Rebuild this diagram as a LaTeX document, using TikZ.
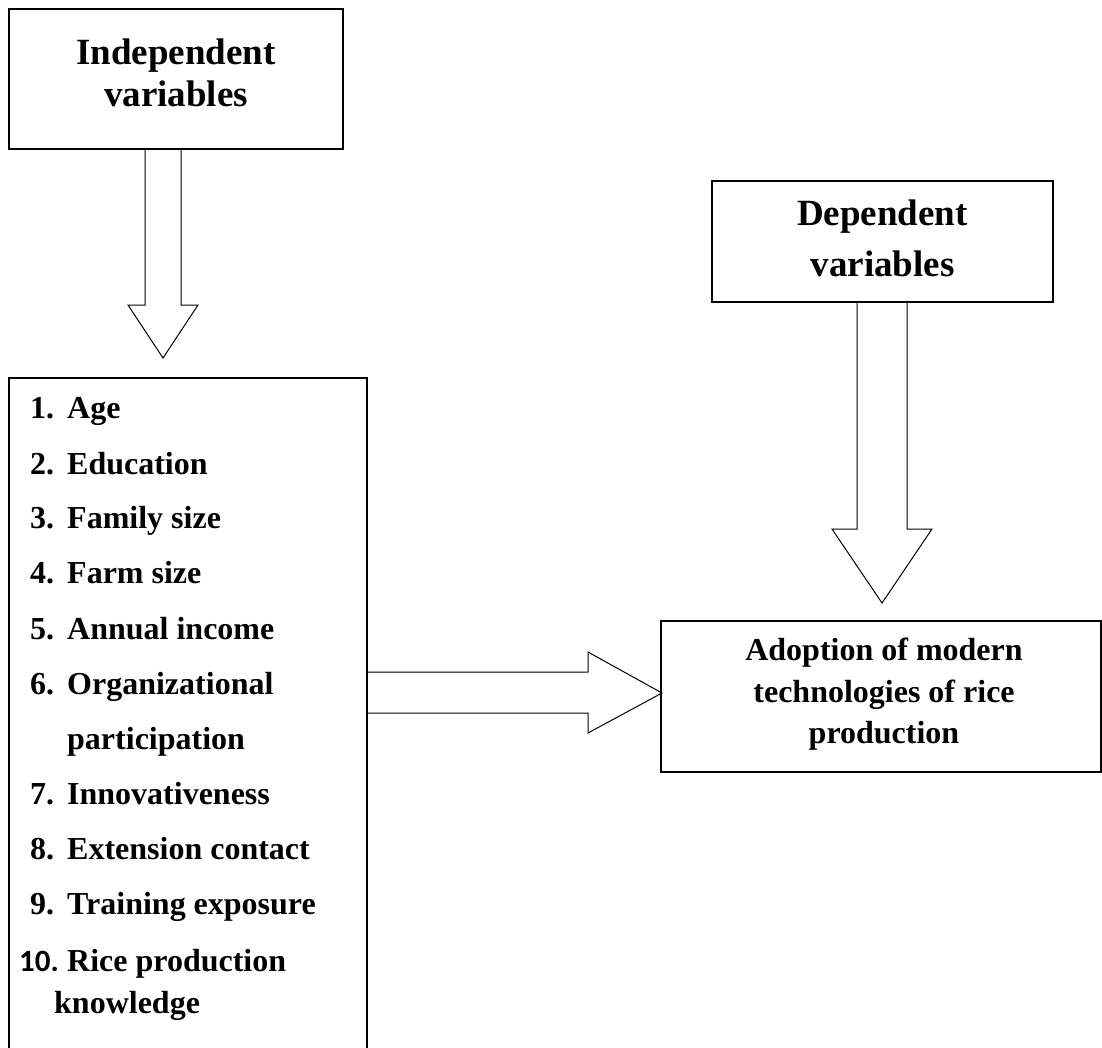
\documentclass[tikz,border=0pt]{standalone}
\usepackage{fontspec}
\setmainfont{Liberation Serif}
\newfontfamily\numfont{Carlito}
\usetikzlibrary{calc}
\tikzset{
  varbox/.style={draw,line width=1.3pt,inner sep=0pt,outer sep=0pt,anchor=north west},
  blockarrow/.style={draw,line width=1pt,line join=miter},
  hdrtext/.style={font=\fontsize{37}{42}\selectfont\bfseries,anchor=base,inner sep=0pt},
  itemtext/.style={font=\fontsize{32}{38}\selectfont\bfseries,anchor=base west,inner sep=0pt},
  adopttext/.style={font=\fontsize{32}{38}\selectfont\bfseries,anchor=base,inner sep=0pt}
}

\begin{document}
\begin{tikzpicture}[x=1pt,y=-1pt]
  \useasboundingbox (0,0) rectangle (1102,1047);

  % boxes
  \node[varbox,minimum width=334pt,minimum height=140pt] (indep) at (9,9) {};
  \node[varbox,minimum width=341pt,minimum height=121pt] (dep) at (712,181) {};
  \node[varbox,minimum width=358pt,minimum height=720pt] (list) at (9,378) {};
  \node[varbox,minimum width=440pt,minimum height=151pt] (adopt) at (661,621) {};

  % box titles
  \node[hdrtext] (indep-1) at ($(indep.north)+(0,55)$) {Independent};
  \node[hdrtext] (indep-2) at ($(indep.north)+(0,97)$) {variables};
  \node[hdrtext] (dep-1) at ($(dep.north)+(0,44)$) {Dependent};
  \node[hdrtext] (dep-2) at ($(dep.north)+(0,95)$) {variables};
  \node[adopttext] (adopt-1) at ($(adopt.north)+(3,39)$) {Adoption of modern};
  \node[adopttext] (adopt-2) at ($(adopt.north)+(3,81)$) {technologies of rice};
  \node[adopttext] (adopt-3) at ($(adopt.north)+(3,122)$) {production};

  % list of independent variables
  \foreach \n/\y/\txt in {1/418/Age,2/474/Education,3/528/Family size,4/583/Farm size,
      5/639/Annual income,6/694/Organizational,7/804/Innovativeness,
      8/859/Extension contact,9/914/Training exposure}{
    \node[itemtext] (num-\n) at (30,\y) {\n.};
    \node[itemtext] (item-\n) at (67,\y) {\txt};
  }
  \node[itemtext] (item-6b) at (67,749) {participation};
  \node[itemtext,font=\fontsize{31}{36}\selectfont\numfont\bfseries] (num-10) at (19,971) {10.};
  \node[itemtext] (item-10) at (67,971) {Rice production};
  \node[itemtext] (item-10b) at (54,1013) {knowledge};

  % block arrows
  \coordinate (tip1) at ($(list.north west)+(154,-20)$);
  \coordinate (tip2) at ($(adopt.north)+(1,-18)$);
  \coordinate (tip3) at ($(adopt.north west)+(1,72)$);
  \draw[blockarrow] ($(indep.south west)+(136,0)$) -- ++(0,156) -- ++(-17,0)
    -- (tip1) -- ++(35,-53) -- ++(-17,0) -- ++(0,-156);
  \draw[blockarrow] ($(dep.south west)+(145,0)$) -- ++(0,227) -- ++(-25,0)
    -- (tip2) -- ++(50,-74) -- ++(-25,0) -- ++(0,-227);
  \draw[blockarrow] ($(list.north east)+(0,294)$) -- ++(221,0) -- ++(0,-20)
    -- (tip3) -- ++(-74,40) -- ++(0,-20) -- ++(-221,0);
\end{tikzpicture}
\end{document}
